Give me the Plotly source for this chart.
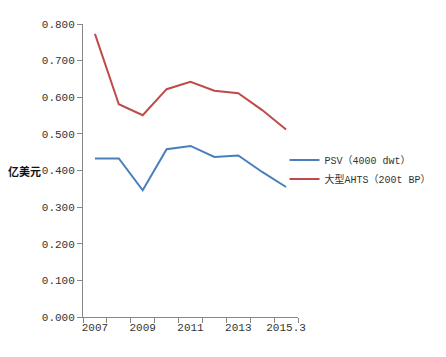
import plotly.graph_objects as go

categories = ["2007", "2008", "2009", "2010", "2011", "2012", "2013", "2014", "2015.3"]
psv = [0.433, 0.433, 0.346, 0.458, 0.467, 0.437, 0.441, 0.396, 0.355]
ahts = [0.773, 0.581, 0.551, 0.622, 0.642, 0.618, 0.611, 0.565, 0.512]
series_names = ["PSV（4000 dwt）", "大型AHTS（200t BP）"]
y_title = "亿美元"

xi = list(range(len(categories)))
font_fam = "Liberation Mono, Noto Sans CJK SC"
axis_col = "#868686"
txt_col = "#333333"

fig = go.Figure()
fig.add_trace(go.Scatter(x=xi, y=psv, mode="lines", name=series_names[0],
                         line=dict(color="#4A7EBB", width=2)))
fig.add_trace(go.Scatter(x=xi, y=ahts, mode="lines", name=series_names[1],
                         line=dict(color="#BE4B48", width=2)))

fig.update_layout(
    width=446, height=357,
    margin=dict(l=75, r=156, t=16, b=48, autoexpand=False),
    paper_bgcolor="white", plot_bgcolor="white",
    font=dict(family=font_fam, size=11, color=txt_col),
    showlegend=True,
    legend=dict(xref="container", yref="container", x=0.62, y=0.615,
                xanchor="left", yanchor="top",
                font=dict(family=font_fam, size=10, color=txt_col),
                itemwidth=30, tracegroupgap=0, bgcolor="rgba(0,0,0,0)"),
    xaxis=dict(range=[-0.5, len(categories) - 0.5], showgrid=False, zeroline=False,
               showline=True, linecolor=axis_col, linewidth=1,
               tickvals=xi[::2], ticktext=categories[::2], ticks="",
               tickfont=dict(family=font_fam, size=11, color=txt_col),
               minor=dict(tickvals=[i - 0.5 for i in range(len(categories) + 1)],
                          ticks="outside", ticklen=5, tickcolor=axis_col, showgrid=False)),
    yaxis=dict(range=[0, 0.8], showgrid=False, zeroline=False,
               showline=True, linecolor=axis_col, linewidth=1,
               tickvals=[i / 10 for i in range(9)], tickformat=".3f",
               ticks="outside", ticklen=5, tickcolor=axis_col,
               tickfont=dict(family=font_fam, size=11, color=txt_col)),
)
fig.add_annotation(text=y_title, xref="paper", yref="y", x=-0.186, y=0.4,
                   xanchor="right", yanchor="middle", showarrow=False,
                   font=dict(family="Noto Sans CJK SC", size=11, color="#111111", weight=700))

fig.write_html("out.html")
